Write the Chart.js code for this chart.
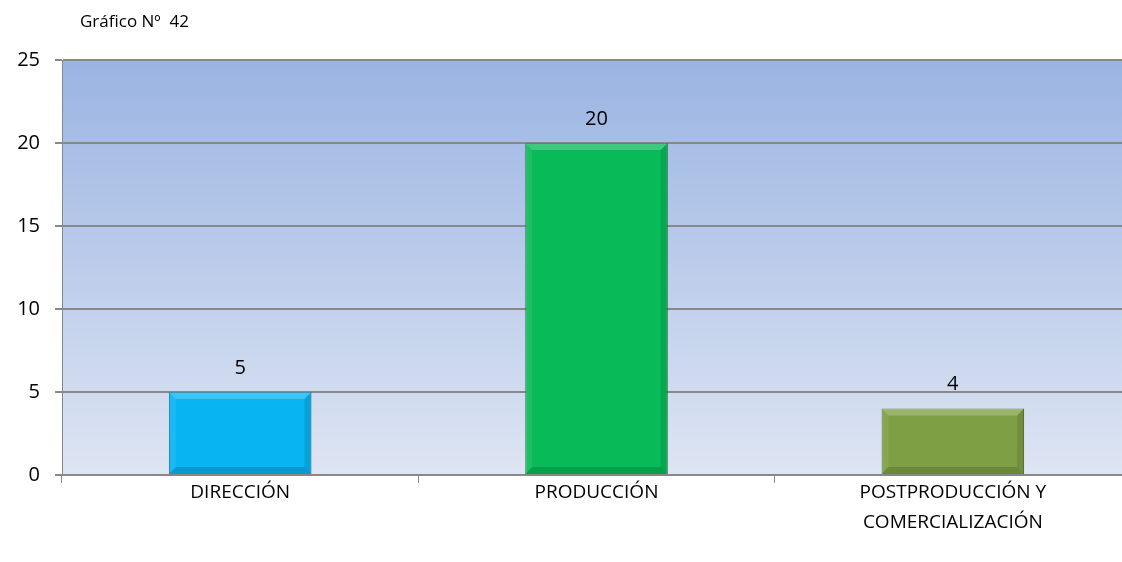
<!DOCTYPE html>
<html>
<head>
<meta charset="utf-8">
<script src="https://cdn.jsdelivr.net/npm/chart.js@4/dist/chart.umd.min.js"></script>
<style>
  html, body { margin: 0; padding: 0; background: #fff; overflow: hidden; }
  #wrap { width: 1131px; height: 562px; position: relative; }
</style>
</head>
<body>
<div id="wrap"><canvas id="grafico"></canvas></div>
<script>
const categories = ["DIRECCIÓN", "PRODUCCIÓN", ["POSTPRODUCCIÓN Y", "COMERCIALIZACIÓN"]];
const values = [5, 20, 4];
const barColors = ["#08B4F2", "#08BA58", "#7E9F43"];
const barBorders = ["#05789f", "#067a3a", "#556d2c"];
const yTicks = [0, 5, 10, 15, 20, 25];
const chartTitle = "Gráfico Nº  42";

const fontFam = "'Open Sans', 'Liberation Sans', sans-serif";

const bgPlugin = {
  id: "bgGradient",
  beforeDraw(chart) {
    const { ctx, chartArea: a } = chart;
    const g = ctx.createLinearGradient(0, a.top, 0, a.bottom);
    g.addColorStop(0, "#9AB4E2");
    g.addColorStop(1, "#DEE5F3");
    ctx.save();
    ctx.fillStyle = g;
    ctx.fillRect(a.left, a.top, a.right - a.left, a.bottom - a.top);
    ctx.restore();
  }
};

// bevel look on the bars, drawn from the bar elements the library placed
const bevelPlugin = {
  id: "bevel",
  afterDatasetsDraw(chart) {
    const { ctx } = chart;
    const meta = chart.getDatasetMeta(0);
    const d = 7;
    ctx.save();
    meta.data.forEach(bar => {
      const l = bar.x - bar.width / 2, r = bar.x + bar.width / 2;
      const t = bar.y, b = bar.base;
      ctx.fillStyle = "rgba(255,255,255,0.22)";
      ctx.beginPath();
      ctx.moveTo(l, t); ctx.lineTo(r, t); ctx.lineTo(r - d, t + d); ctx.lineTo(l + d, t + d);
      ctx.closePath(); ctx.fill();
      ctx.fillStyle = "rgba(255,255,255,0.08)";
      ctx.beginPath();
      ctx.moveTo(l, t); ctx.lineTo(l + d, t + d); ctx.lineTo(l + d, b - d); ctx.lineTo(l, b);
      ctx.closePath(); ctx.fill();
      ctx.fillStyle = "rgba(0,0,0,0.10)";
      ctx.beginPath();
      ctx.moveTo(r, t); ctx.lineTo(r, b); ctx.lineTo(r - d, b - d); ctx.lineTo(r - d, t + d);
      ctx.closePath(); ctx.fill();
      ctx.fillStyle = "rgba(0,0,0,0.14)";
      ctx.beginPath();
      ctx.moveTo(l, b); ctx.lineTo(r, b); ctx.lineTo(r - d, b - d); ctx.lineTo(l + d, b - d);
      ctx.closePath(); ctx.fill();
    });
    ctx.restore();
  }
};

const labelPlugin = {
  id: "labels",
  afterDatasetsDraw(chart) {
    const { ctx } = chart;
    const meta = chart.getDatasetMeta(0);
    ctx.save();
    ctx.font = "20px " + fontFam;
    ctx.fillStyle = "#000";
    ctx.textAlign = "center";
    ctx.textBaseline = "bottom";
    meta.data.forEach((bar, i) => {
      ctx.fillText(String(values[i]), bar.x, bar.y - 14);
    });
    ctx.font = "17px " + fontFam;
    ctx.textAlign = "left";
    ctx.textBaseline = "middle";
    ctx.fillText(chartTitle, 80, 22);
    ctx.restore();
  }
};

new Chart(document.getElementById("grafico"), {
  type: "bar",
  data: {
    labels: categories,
    datasets: [{
      data: values,
      backgroundColor: barColors,
      borderColor: barBorders,
      borderWidth: 1,
      categoryPercentage: 0.4,
      barPercentage: 1
    }]
  },
  options: {
    responsive: true,
    maintainAspectRatio: false,
    animation: false,
    layout: { padding: { top: 60, right: 0, left: 0, bottom: 0 } },
    plugins: {
      legend: { display: false },
      tooltip: { enabled: false }
    },
    scales: {
      x: {
        offset: true,
        grid: {
          display: true,
          offset: true,
          drawOnChartArea: false,
          drawTicks: true,
          tickLength: 8,
          color: "#888"
        },
        border: { display: true, color: "#888", width: 2 },
        ticks: {
          color: "#000",
          font: { size: 19, family: fontFam, lineHeight: 1.6 },
          padding: -6,
          maxRotation: 0
        },
        afterFit(scale) { scale.height = 87; }
      },
      y: {
        min: 0,
        max: 25,
        afterBuildTicks(scale) { scale.ticks = yTicks.map(v => ({ value: v })); },
        grid: {
          color: "#888",
          lineWidth: 2,
          tickLength: 7
        },
        border: { display: true, color: "#888", width: 1 },
        ticks: {
          color: "#000",
          font: { size: 20, family: fontFam },
          padding: 15
        },
        afterFit(scale) { scale.width = 62; }
      }
    }
  },
  plugins: [bgPlugin, bevelPlugin, labelPlugin]
});
</script>
</body>
</html>
